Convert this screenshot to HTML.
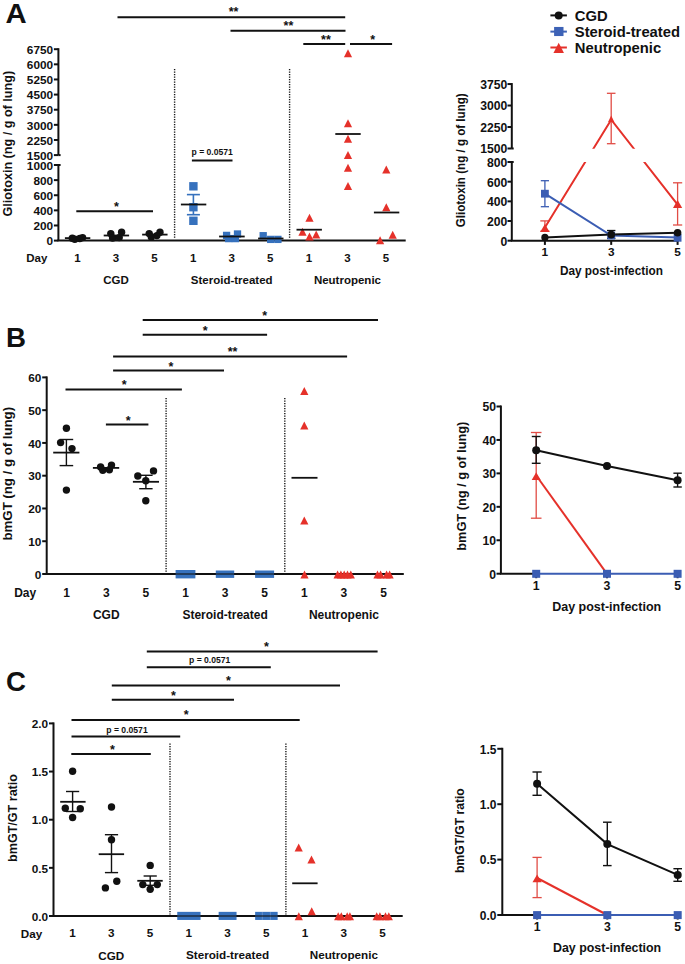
<!DOCTYPE html>
<html><head><meta charset="utf-8"><style>
html,body{margin:0;padding:0;background:#fff;overflow:hidden;}
svg{display:block;font-family:"Liberation Sans", sans-serif;}
</style></head><body>
<svg width="685" height="964" viewBox="0 0 685 964">
<rect width="685" height="964" fill="#fff"/>
<text x="5.40" y="22.50" font-size="27.5" text-anchor="start" fill="#111" font-weight="bold" textLength="21.2" lengthAdjust="spacingAndGlyphs">A</text>
<line x1="58.40" y1="48.20" x2="58.40" y2="155.10" stroke="#111" stroke-width="2" />
<line x1="53.90" y1="49.20" x2="58.40" y2="49.20" stroke="#111" stroke-width="2" />
<text x="53.10" y="53.95" font-size="11.8" text-anchor="end" fill="#111" font-weight="bold">6750</text>
<line x1="53.90" y1="64.33" x2="58.40" y2="64.33" stroke="#111" stroke-width="2" />
<text x="53.10" y="69.08" font-size="11.8" text-anchor="end" fill="#111" font-weight="bold">6000</text>
<line x1="53.90" y1="79.46" x2="58.40" y2="79.46" stroke="#111" stroke-width="2" />
<text x="53.10" y="84.21" font-size="11.8" text-anchor="end" fill="#111" font-weight="bold">5250</text>
<line x1="53.90" y1="94.59" x2="58.40" y2="94.59" stroke="#111" stroke-width="2" />
<text x="53.10" y="99.33" font-size="11.8" text-anchor="end" fill="#111" font-weight="bold">4500</text>
<line x1="53.90" y1="109.71" x2="58.40" y2="109.71" stroke="#111" stroke-width="2" />
<text x="53.10" y="114.46" font-size="11.8" text-anchor="end" fill="#111" font-weight="bold">3750</text>
<line x1="53.90" y1="124.84" x2="58.40" y2="124.84" stroke="#111" stroke-width="2" />
<text x="53.10" y="129.59" font-size="11.8" text-anchor="end" fill="#111" font-weight="bold">3000</text>
<line x1="53.90" y1="139.97" x2="58.40" y2="139.97" stroke="#111" stroke-width="2" />
<text x="53.10" y="144.72" font-size="11.8" text-anchor="end" fill="#111" font-weight="bold">2250</text>
<line x1="53.90" y1="155.10" x2="58.40" y2="155.10" stroke="#111" stroke-width="2" />
<text x="53.10" y="159.85" font-size="11.8" text-anchor="end" fill="#111" font-weight="bold">1500</text>
<line x1="58.40" y1="155.10" x2="60.60" y2="155.10" stroke="#111" stroke-width="2" />
<line x1="58.40" y1="164.00" x2="58.40" y2="240.60" stroke="#111" stroke-width="2" />
<line x1="53.90" y1="165.00" x2="58.40" y2="165.00" stroke="#111" stroke-width="2" />
<text x="53.10" y="169.75" font-size="11.8" text-anchor="end" fill="#111" font-weight="bold">1000</text>
<line x1="53.90" y1="180.12" x2="58.40" y2="180.12" stroke="#111" stroke-width="2" />
<text x="53.10" y="184.87" font-size="11.8" text-anchor="end" fill="#111" font-weight="bold">800</text>
<line x1="53.90" y1="195.24" x2="58.40" y2="195.24" stroke="#111" stroke-width="2" />
<text x="53.10" y="199.99" font-size="11.8" text-anchor="end" fill="#111" font-weight="bold">600</text>
<line x1="53.90" y1="210.36" x2="58.40" y2="210.36" stroke="#111" stroke-width="2" />
<text x="53.10" y="215.11" font-size="11.8" text-anchor="end" fill="#111" font-weight="bold">400</text>
<line x1="53.90" y1="225.48" x2="58.40" y2="225.48" stroke="#111" stroke-width="2" />
<text x="53.10" y="230.23" font-size="11.8" text-anchor="end" fill="#111" font-weight="bold">200</text>
<line x1="53.90" y1="240.60" x2="58.40" y2="240.60" stroke="#111" stroke-width="2" />
<text x="53.10" y="245.35" font-size="11.8" text-anchor="end" fill="#111" font-weight="bold">0</text>
<line x1="58.40" y1="165.00" x2="60.60" y2="165.00" stroke="#111" stroke-width="2" />
<line x1="57.40" y1="240.60" x2="405.70" y2="240.60" stroke="#111" stroke-width="2" />
<text transform="translate(12.00,143.70) rotate(-90)" x="0" y="0" font-size="12.5" text-anchor="middle" font-weight="bold" fill="#111" textLength="145.6" lengthAdjust="spacingAndGlyphs">Gliotoxin (ng / g of lung)</text>
<text x="47.40" y="261.84" font-size="11.5" text-anchor="end" fill="#111" font-weight="bold">Day</text>
<text x="77.40" y="261.84" font-size="11.5" text-anchor="middle" fill="#111" font-weight="bold">1</text>
<text x="115.98" y="261.84" font-size="11.5" text-anchor="middle" fill="#111" font-weight="bold">3</text>
<text x="154.55" y="261.84" font-size="11.5" text-anchor="middle" fill="#111" font-weight="bold">5</text>
<text x="193.12" y="261.84" font-size="11.5" text-anchor="middle" fill="#111" font-weight="bold">1</text>
<text x="231.70" y="261.84" font-size="11.5" text-anchor="middle" fill="#111" font-weight="bold">3</text>
<text x="270.27" y="261.84" font-size="11.5" text-anchor="middle" fill="#111" font-weight="bold">5</text>
<text x="308.85" y="261.84" font-size="11.5" text-anchor="middle" fill="#111" font-weight="bold">1</text>
<text x="347.43" y="261.84" font-size="11.5" text-anchor="middle" fill="#111" font-weight="bold">3</text>
<text x="386.00" y="261.84" font-size="11.5" text-anchor="middle" fill="#111" font-weight="bold">5</text>
<text x="115.98" y="283.94" font-size="11.5" text-anchor="middle" fill="#111" font-weight="bold">CGD</text>
<text x="231.70" y="283.94" font-size="11.5" text-anchor="middle" fill="#111" font-weight="bold">Steroid-treated</text>
<text x="347.43" y="283.94" font-size="11.5" text-anchor="middle" fill="#111" font-weight="bold">Neutropenic</text>
<line x1="174.6" y1="69" x2="174.6" y2="238.5" stroke="#151515" stroke-width="1.4" stroke-dasharray="1.3 1.2"/>
<line x1="289.6" y1="69" x2="289.6" y2="238.5" stroke="#151515" stroke-width="1.4" stroke-dasharray="1.3 1.2"/>
<line x1="117.50" y1="17.30" x2="345.20" y2="17.30" stroke="#111" stroke-width="2" />
<text x="233.50" y="15.80" font-size="12.5" text-anchor="middle" fill="#111" font-weight="bold">**</text>
<line x1="230.50" y1="30.80" x2="345.50" y2="30.80" stroke="#111" stroke-width="2" />
<text x="288.40" y="30.30" font-size="12.5" text-anchor="middle" fill="#111" font-weight="bold">**</text>
<line x1="303.30" y1="44.10" x2="345.20" y2="44.10" stroke="#111" stroke-width="2" />
<text x="325.90" y="43.50" font-size="12.5" text-anchor="middle" fill="#111" font-weight="bold">**</text>
<line x1="350.00" y1="44.10" x2="392.10" y2="44.10" stroke="#111" stroke-width="2" />
<text x="372.70" y="43.50" font-size="12.5" text-anchor="middle" fill="#111" font-weight="bold">*</text>
<line x1="76.30" y1="211.20" x2="153.00" y2="211.20" stroke="#111" stroke-width="2" />
<text x="116.40" y="210.50" font-size="12.5" text-anchor="middle" fill="#111" font-weight="bold">*</text>
<line x1="191.90" y1="160.50" x2="232.50" y2="160.50" stroke="#111" stroke-width="2" />
<text x="212.20" y="155.40" font-size="8.6" text-anchor="middle" fill="#111" font-weight="bold">p = 0.0571</text>
<circle cx="72.30" cy="238.20" r="3.7" fill="#111"/>
<circle cx="74.80" cy="239.30" r="3.7" fill="#111"/>
<circle cx="79.80" cy="238.50" r="3.7" fill="#111"/>
<circle cx="82.60" cy="237.60" r="3.7" fill="#111"/>
<line x1="64.90" y1="238.10" x2="90.30" y2="238.10" stroke="#111" stroke-width="1.8" />
<circle cx="110.80" cy="233.60" r="3.7" fill="#111"/>
<circle cx="112.60" cy="238.00" r="3.7" fill="#111"/>
<circle cx="119.20" cy="237.60" r="3.7" fill="#111"/>
<circle cx="121.60" cy="232.20" r="3.7" fill="#111"/>
<line x1="103.70" y1="235.50" x2="129.10" y2="235.50" stroke="#111" stroke-width="1.8" />
<circle cx="149.20" cy="233.60" r="3.7" fill="#111"/>
<circle cx="151.30" cy="236.90" r="3.7" fill="#111"/>
<circle cx="156.90" cy="235.60" r="3.7" fill="#111"/>
<circle cx="160.00" cy="232.20" r="3.7" fill="#111"/>
<line x1="142.15" y1="234.60" x2="167.55" y2="234.60" stroke="#111" stroke-width="1.8" />
<rect x="189.20" y="182.10" width="8.4" height="8.4" fill="#3671bd"/>
<rect x="189.20" y="203.00" width="8.4" height="8.4" fill="#3671bd"/>
<rect x="189.20" y="216.60" width="8.4" height="8.4" fill="#3671bd"/>
<line x1="193.40" y1="194.60" x2="193.40" y2="214.70" stroke="#3671bd" stroke-width="1.6" />
<line x1="186.90" y1="194.60" x2="199.90" y2="194.60" stroke="#3671bd" stroke-width="1.6" />
<line x1="186.90" y1="214.70" x2="199.90" y2="214.70" stroke="#3671bd" stroke-width="1.6" />
<line x1="180.90" y1="204.50" x2="206.30" y2="204.50" stroke="#111" stroke-width="1.8" />
<rect x="222.95" y="231.75" width="7.3" height="7.3" fill="#3671bd"/>
<rect x="233.85" y="230.35" width="7.3" height="7.3" fill="#3671bd"/>
<rect x="224.95" y="234.95" width="7.3" height="7.3" fill="#3671bd"/>
<rect x="231.75" y="234.95" width="7.3" height="7.3" fill="#3671bd"/>
<line x1="219.10" y1="236.50" x2="244.70" y2="236.50" stroke="#111" stroke-width="1.8" />
<rect x="259.55" y="232.05" width="7.3" height="7.3" fill="#3671bd"/>
<rect x="267.05" y="235.75" width="7.3" height="7.3" fill="#3671bd"/>
<rect x="274.25" y="235.75" width="7.3" height="7.3" fill="#3671bd"/>
<line x1="258.10" y1="238.50" x2="283.50" y2="238.50" stroke="#111" stroke-width="1.8" />
<polygon points="309.50,213.70 313.60,221.70 305.40,221.70" fill="#e5312a"/>
<polygon points="302.50,227.80 306.60,235.80 298.40,235.80" fill="#e5312a"/>
<polygon points="309.50,232.50 313.60,240.50 305.40,240.50" fill="#e5312a"/>
<polygon points="316.20,230.40 320.30,238.40 312.10,238.40" fill="#e5312a"/>
<line x1="296.50" y1="229.70" x2="321.90" y2="229.70" stroke="#111" stroke-width="1.8" />
<polygon points="348.00,49.20 352.10,57.20 343.90,57.20" fill="#e5312a"/>
<polygon points="348.00,119.20 352.10,127.20 343.90,127.20" fill="#e5312a"/>
<polygon points="348.00,134.70 352.10,142.70 343.90,142.70" fill="#e5312a"/>
<polygon points="348.00,151.00 352.10,159.00 343.90,159.00" fill="#e5312a"/>
<polygon points="348.00,163.80 352.10,171.80 343.90,171.80" fill="#e5312a"/>
<polygon points="348.00,181.90 352.10,189.90 343.90,189.90" fill="#e5312a"/>
<line x1="335.30" y1="134.00" x2="360.70" y2="134.00" stroke="#111" stroke-width="1.8" />
<polygon points="386.30,165.60 390.40,173.60 382.20,173.60" fill="#e5312a"/>
<polygon points="386.30,203.20 390.40,211.20 382.20,211.20" fill="#e5312a"/>
<polygon points="392.70,230.70 396.80,238.70 388.60,238.70" fill="#e5312a"/>
<polygon points="380.10,236.30 384.20,244.30 376.00,244.30" fill="#e5312a"/>
<line x1="373.90" y1="212.50" x2="399.30" y2="212.50" stroke="#111" stroke-width="1.8" />
<line x1="550.40" y1="15.40" x2="566.90" y2="15.40" stroke="#111" stroke-width="2" />
<circle cx="558.70" cy="15.40" r="4.0" fill="#111"/>
<line x1="550.40" y1="31.60" x2="566.90" y2="31.60" stroke="#3d62b6" stroke-width="2" />
<rect x="554.10" y="26.95" width="9.4" height="9.1" fill="#3d62b6"/>
<line x1="550.40" y1="47.50" x2="566.90" y2="47.50" stroke="#e5312a" stroke-width="2" />
<polygon points="558.70,42.70 563.95,52.90 553.45,52.90" fill="#e5312a"/>
<text x="574.80" y="20.83" font-size="14.8" text-anchor="start" fill="#111" font-weight="bold">CGD</text>
<text x="574.80" y="36.93" font-size="14.8" text-anchor="start" fill="#111" font-weight="bold">Steroid-treated</text>
<text x="574.80" y="53.33" font-size="14.8" text-anchor="start" fill="#111" font-weight="bold">Neutropenic</text>
<line x1="511.80" y1="83.05" x2="511.80" y2="148.50" stroke="#111" stroke-width="2" />
<line x1="507.50" y1="84.05" x2="511.80" y2="84.05" stroke="#111" stroke-width="2" />
<text x="507.30" y="88.94" font-size="12.2" text-anchor="end" fill="#111" font-weight="bold">3750</text>
<line x1="507.50" y1="105.53" x2="511.80" y2="105.53" stroke="#111" stroke-width="2" />
<text x="507.30" y="110.43" font-size="12.2" text-anchor="end" fill="#111" font-weight="bold">3000</text>
<line x1="507.50" y1="127.02" x2="511.80" y2="127.02" stroke="#111" stroke-width="2" />
<text x="507.30" y="131.91" font-size="12.2" text-anchor="end" fill="#111" font-weight="bold">2250</text>
<line x1="507.50" y1="148.50" x2="511.80" y2="148.50" stroke="#111" stroke-width="2" />
<text x="507.30" y="153.39" font-size="12.2" text-anchor="end" fill="#111" font-weight="bold">1500</text>
<line x1="511.80" y1="148.50" x2="513.70" y2="148.50" stroke="#111" stroke-width="2" />
<line x1="511.80" y1="161.00" x2="511.80" y2="240.70" stroke="#111" stroke-width="2" />
<line x1="507.50" y1="162.00" x2="511.80" y2="162.00" stroke="#111" stroke-width="2" />
<text x="507.30" y="166.89" font-size="12.2" text-anchor="end" fill="#111" font-weight="bold">800</text>
<line x1="507.50" y1="181.68" x2="511.80" y2="181.68" stroke="#111" stroke-width="2" />
<text x="507.30" y="186.57" font-size="12.2" text-anchor="end" fill="#111" font-weight="bold">600</text>
<line x1="507.50" y1="201.35" x2="511.80" y2="201.35" stroke="#111" stroke-width="2" />
<text x="507.30" y="206.24" font-size="12.2" text-anchor="end" fill="#111" font-weight="bold">400</text>
<line x1="507.50" y1="221.02" x2="511.80" y2="221.02" stroke="#111" stroke-width="2" />
<text x="507.30" y="225.92" font-size="12.2" text-anchor="end" fill="#111" font-weight="bold">200</text>
<line x1="507.50" y1="240.70" x2="511.80" y2="240.70" stroke="#111" stroke-width="2" />
<text x="507.30" y="245.59" font-size="12.2" text-anchor="end" fill="#111" font-weight="bold">0</text>
<line x1="511.80" y1="162.00" x2="513.70" y2="162.00" stroke="#111" stroke-width="2" />
<line x1="510.80" y1="240.70" x2="678.60" y2="240.70" stroke="#111" stroke-width="2" />
<line x1="544.90" y1="240.70" x2="544.90" y2="244.90" stroke="#111" stroke-width="2" />
<text x="544.90" y="256.05" font-size="11.8" text-anchor="middle" fill="#111" font-weight="bold">1</text>
<line x1="611.20" y1="240.70" x2="611.20" y2="244.90" stroke="#111" stroke-width="2" />
<text x="611.20" y="256.05" font-size="11.8" text-anchor="middle" fill="#111" font-weight="bold">3</text>
<line x1="677.60" y1="240.70" x2="677.60" y2="244.90" stroke="#111" stroke-width="2" />
<text x="677.60" y="256.05" font-size="11.8" text-anchor="middle" fill="#111" font-weight="bold">5</text>
<text x="611.40" y="274.99" font-size="12.2" text-anchor="middle" fill="#111" font-weight="bold" textLength="103" lengthAdjust="spacingAndGlyphs">Day post-infection</text>
<text transform="translate(464.80,160.30) rotate(-90)" x="0" y="0" font-size="12" text-anchor="middle" font-weight="bold" fill="#111" textLength="134" lengthAdjust="spacingAndGlyphs">Gliotoxin (ng / g of lung)</text>
<defs><clipPath id="cA"><rect x="500" y="60" width="190" height="88.8"/><rect x="500" y="162.1" width="190" height="100"/></clipPath></defs>
<line x1="544.90" y1="180.70" x2="544.90" y2="206.70" stroke="#3b5db3" stroke-width="1.3" />
<line x1="540.80" y1="180.70" x2="549.00" y2="180.70" stroke="#3b5db3" stroke-width="1.3" />
<line x1="540.80" y1="206.70" x2="549.00" y2="206.70" stroke="#3b5db3" stroke-width="1.3" />
<line x1="544.90" y1="220.90" x2="544.90" y2="231.20" stroke="#e14c45" stroke-width="1.3" />
<line x1="540.30" y1="220.90" x2="549.50" y2="220.90" stroke="#e14c45" stroke-width="1.3" />
<line x1="540.30" y1="231.20" x2="549.50" y2="231.20" stroke="#e14c45" stroke-width="1.3" />
<line x1="611.20" y1="93.30" x2="611.20" y2="143.70" stroke="#e14c45" stroke-width="1.3" />
<line x1="606.90" y1="93.30" x2="615.50" y2="93.30" stroke="#e14c45" stroke-width="1.3" />
<line x1="606.90" y1="143.70" x2="615.50" y2="143.70" stroke="#e14c45" stroke-width="1.3" />
<line x1="677.60" y1="182.80" x2="677.60" y2="225.00" stroke="#e14c45" stroke-width="1.3" />
<line x1="673.00" y1="182.80" x2="682.20" y2="182.80" stroke="#e14c45" stroke-width="1.3" />
<line x1="673.00" y1="225.00" x2="682.20" y2="225.00" stroke="#e14c45" stroke-width="1.3" />
<line x1="611.20" y1="230.50" x2="611.20" y2="238.30" stroke="#111" stroke-width="1.3" />
<line x1="607.00" y1="230.50" x2="615.40" y2="230.50" stroke="#111" stroke-width="1.3" />
<line x1="607.00" y1="238.30" x2="615.40" y2="238.30" stroke="#111" stroke-width="1.3" />
<polyline points="544.90,227.50 611.20,119.70 677.60,204.70" fill="none" stroke="#e5312a" stroke-width="2" clip-path="url(#cA)"/>
<polyline points="544.90,193.70 611.20,235.60 677.60,237.40" fill="none" stroke="#3b5db3" stroke-width="2"/>
<polyline points="544.90,237.40 611.20,234.60 677.60,232.80" fill="none" stroke="#111" stroke-width="2"/>
<rect x="541.00" y="189.80" width="7.8" height="7.8" fill="#3b5db3"/>
<rect x="607.30" y="231.70" width="7.8" height="7.8" fill="#3b5db3"/>
<rect x="673.70" y="233.90" width="7.8" height="7.8" fill="#3b5db3"/>
<polygon points="544.90,224.00 549.60,232.00 540.20,232.00" fill="#e5312a"/>
<polygon points="611.20,115.60 614.30,122.00 608.10,122.00" fill="#e5312a"/>
<polygon points="677.60,199.90 682.20,208.10 673.00,208.10" fill="#e5312a"/>
<circle cx="544.90" cy="237.40" r="3.6" fill="#111"/>
<circle cx="611.20" cy="234.60" r="3.9" fill="#111"/>
<circle cx="677.60" cy="232.80" r="3.8" fill="#111"/>
<text x="6.00" y="347.00" font-size="27.5" text-anchor="start" fill="#111" font-weight="bold" textLength="20.0" lengthAdjust="spacingAndGlyphs">B</text>
<line x1="46.70" y1="376.40" x2="46.70" y2="574.00" stroke="#111" stroke-width="2" />
<line x1="42.20" y1="377.40" x2="46.70" y2="377.40" stroke="#111" stroke-width="2" />
<text x="41.40" y="382.15" font-size="11.8" text-anchor="end" fill="#111" font-weight="bold">60</text>
<line x1="42.20" y1="410.17" x2="46.70" y2="410.17" stroke="#111" stroke-width="2" />
<text x="41.40" y="414.91" font-size="11.8" text-anchor="end" fill="#111" font-weight="bold">50</text>
<line x1="42.20" y1="442.93" x2="46.70" y2="442.93" stroke="#111" stroke-width="2" />
<text x="41.40" y="447.68" font-size="11.8" text-anchor="end" fill="#111" font-weight="bold">40</text>
<line x1="42.20" y1="475.70" x2="46.70" y2="475.70" stroke="#111" stroke-width="2" />
<text x="41.40" y="480.45" font-size="11.8" text-anchor="end" fill="#111" font-weight="bold">30</text>
<line x1="42.20" y1="508.47" x2="46.70" y2="508.47" stroke="#111" stroke-width="2" />
<text x="41.40" y="513.21" font-size="11.8" text-anchor="end" fill="#111" font-weight="bold">20</text>
<line x1="42.20" y1="541.23" x2="46.70" y2="541.23" stroke="#111" stroke-width="2" />
<text x="41.40" y="545.98" font-size="11.8" text-anchor="end" fill="#111" font-weight="bold">10</text>
<line x1="42.20" y1="574.00" x2="46.70" y2="574.00" stroke="#111" stroke-width="2" />
<text x="41.40" y="578.75" font-size="11.8" text-anchor="end" fill="#111" font-weight="bold">0</text>
<text transform="translate(12.40,473.70) rotate(-90)" x="0" y="0" font-size="12.5" text-anchor="middle" font-weight="bold" fill="#111" textLength="133.5" lengthAdjust="spacingAndGlyphs">bmGT (ng / g of lung)</text>
<text x="36.20" y="596.92" font-size="12.0" text-anchor="end" fill="#111" font-weight="bold">Day</text>
<text x="66.70" y="596.92" font-size="12.0" text-anchor="middle" fill="#111" font-weight="bold">1</text>
<text x="106.30" y="596.92" font-size="12.0" text-anchor="middle" fill="#111" font-weight="bold">3</text>
<text x="145.90" y="596.92" font-size="12.0" text-anchor="middle" fill="#111" font-weight="bold">5</text>
<text x="185.50" y="596.92" font-size="12.0" text-anchor="middle" fill="#111" font-weight="bold">1</text>
<text x="225.10" y="596.92" font-size="12.0" text-anchor="middle" fill="#111" font-weight="bold">3</text>
<text x="264.70" y="596.92" font-size="12.0" text-anchor="middle" fill="#111" font-weight="bold">5</text>
<text x="304.30" y="596.92" font-size="12.0" text-anchor="middle" fill="#111" font-weight="bold">1</text>
<text x="343.90" y="596.92" font-size="12.0" text-anchor="middle" fill="#111" font-weight="bold">3</text>
<text x="383.50" y="596.92" font-size="12.0" text-anchor="middle" fill="#111" font-weight="bold">5</text>
<text x="106.30" y="618.92" font-size="12.0" text-anchor="middle" fill="#111" font-weight="bold">CGD</text>
<text x="225.10" y="618.92" font-size="12.0" text-anchor="middle" fill="#111" font-weight="bold">Steroid-treated</text>
<text x="343.90" y="618.92" font-size="12.0" text-anchor="middle" fill="#111" font-weight="bold">Neutropenic</text>
<line x1="166.1" y1="398" x2="166.1" y2="572.5" stroke="#151515" stroke-width="1.4" stroke-dasharray="1.3 1.2"/>
<line x1="284.8" y1="398" x2="284.8" y2="572.5" stroke="#151515" stroke-width="1.4" stroke-dasharray="1.3 1.2"/>
<line x1="142.70" y1="320.10" x2="378.00" y2="320.10" stroke="#111" stroke-width="2" />
<text x="264.80" y="319.90" font-size="12.5" text-anchor="middle" fill="#111" font-weight="bold">*</text>
<line x1="142.70" y1="334.80" x2="267.10" y2="334.80" stroke="#111" stroke-width="2" />
<text x="205.20" y="335.10" font-size="12.5" text-anchor="middle" fill="#111" font-weight="bold">*</text>
<line x1="113.10" y1="356.60" x2="347.10" y2="356.60" stroke="#111" stroke-width="2" />
<text x="232.50" y="355.50" font-size="12.5" text-anchor="middle" fill="#111" font-weight="bold">**</text>
<line x1="113.10" y1="370.60" x2="224.00" y2="370.60" stroke="#111" stroke-width="2" />
<text x="170.90" y="370.60" font-size="12.5" text-anchor="middle" fill="#111" font-weight="bold">*</text>
<line x1="65.50" y1="389.50" x2="181.90" y2="389.50" stroke="#111" stroke-width="2" />
<text x="124.10" y="389.30" font-size="12.5" text-anchor="middle" fill="#111" font-weight="bold">*</text>
<line x1="105.90" y1="424.40" x2="148.40" y2="424.40" stroke="#111" stroke-width="2" />
<text x="128.10" y="424.80" font-size="12.5" text-anchor="middle" fill="#111" font-weight="bold">*</text>
<circle cx="66.40" cy="428.30" r="3.7" fill="#111"/>
<circle cx="60.60" cy="442.60" r="3.7" fill="#111"/>
<circle cx="72.00" cy="448.60" r="3.7" fill="#111"/>
<circle cx="66.40" cy="490.10" r="3.7" fill="#111"/>
<line x1="66.40" y1="439.50" x2="66.40" y2="465.60" stroke="#111" stroke-width="1.4" />
<line x1="59.60" y1="439.50" x2="73.20" y2="439.50" stroke="#111" stroke-width="1.4" />
<line x1="59.60" y1="465.60" x2="73.20" y2="465.60" stroke="#111" stroke-width="1.4" />
<line x1="53.20" y1="452.60" x2="79.40" y2="452.60" stroke="#111" stroke-width="1.8" />
<circle cx="100.60" cy="467.00" r="3.7" fill="#111"/>
<circle cx="102.80" cy="470.30" r="3.7" fill="#111"/>
<circle cx="109.40" cy="469.80" r="3.7" fill="#111"/>
<circle cx="111.50" cy="465.10" r="3.7" fill="#111"/>
<line x1="92.90" y1="467.90" x2="119.20" y2="467.90" stroke="#111" stroke-width="1.8" />
<circle cx="137.80" cy="476.00" r="3.7" fill="#111"/>
<circle cx="145.80" cy="480.70" r="3.7" fill="#111"/>
<circle cx="153.50" cy="470.90" r="3.7" fill="#111"/>
<circle cx="145.80" cy="500.80" r="3.7" fill="#111"/>
<line x1="145.90" y1="475.30" x2="145.90" y2="488.70" stroke="#111" stroke-width="1.4" />
<line x1="139.20" y1="475.30" x2="152.60" y2="475.30" stroke="#111" stroke-width="1.4" />
<line x1="139.20" y1="488.70" x2="152.60" y2="488.70" stroke="#111" stroke-width="1.4" />
<line x1="132.90" y1="481.80" x2="159.00" y2="481.80" stroke="#111" stroke-width="1.8" />
<line x1="45.70" y1="574.00" x2="403.80" y2="574.00" stroke="#111" stroke-width="2" />
<rect x="175.60" y="570.00" width="19.8" height="8.4" fill="#3671bd"/>
<rect x="215.80" y="570.50" width="18.4" height="7.4" fill="#3671bd"/>
<rect x="255.10" y="570.50" width="19.0" height="7.4" fill="#3671bd"/>
<line x1="160.00" y1="574.00" x2="290.00" y2="574.00" stroke="#111" stroke-width="2" stroke-opacity="0.55"/>
<polygon points="304.30,387.00 308.40,395.00 300.20,395.00" fill="#e5312a"/>
<polygon points="304.30,421.60 308.40,429.60 300.20,429.60" fill="#e5312a"/>
<polygon points="304.30,516.50 308.40,524.50 300.20,524.50" fill="#e5312a"/>
<polygon points="304.50,570.40 308.60,578.40 300.40,578.40" fill="#e5312a"/>
<line x1="291.50" y1="477.80" x2="317.50" y2="477.80" stroke="#111" stroke-width="1.8" />
<polygon points="337.60,570.40 341.70,578.40 333.50,578.40" fill="#e5312a"/>
<polygon points="340.90,570.40 345.00,578.40 336.80,578.40" fill="#e5312a"/>
<polygon points="344.20,570.40 348.30,578.40 340.10,578.40" fill="#e5312a"/>
<polygon points="347.50,570.40 351.60,578.40 343.40,578.40" fill="#e5312a"/>
<polygon points="350.80,570.40 354.90,578.40 346.70,578.40" fill="#e5312a"/>
<polygon points="377.50,570.40 381.60,578.40 373.40,578.40" fill="#e5312a"/>
<polygon points="380.60,570.40 384.70,578.40 376.50,578.40" fill="#e5312a"/>
<polygon points="386.60,570.40 390.70,578.40 382.50,578.40" fill="#e5312a"/>
<polygon points="389.60,570.40 393.70,578.40 385.50,578.40" fill="#e5312a"/>
<line x1="500.90" y1="405.50" x2="500.90" y2="573.70" stroke="#111" stroke-width="2" />
<line x1="496.50" y1="406.50" x2="500.90" y2="406.50" stroke="#111" stroke-width="2" />
<text x="496.00" y="411.39" font-size="12.2" text-anchor="end" fill="#111" font-weight="bold">50</text>
<line x1="496.50" y1="439.94" x2="500.90" y2="439.94" stroke="#111" stroke-width="2" />
<text x="496.00" y="444.83" font-size="12.2" text-anchor="end" fill="#111" font-weight="bold">40</text>
<line x1="496.50" y1="473.38" x2="500.90" y2="473.38" stroke="#111" stroke-width="2" />
<text x="496.00" y="478.27" font-size="12.2" text-anchor="end" fill="#111" font-weight="bold">30</text>
<line x1="496.50" y1="506.82" x2="500.90" y2="506.82" stroke="#111" stroke-width="2" />
<text x="496.00" y="511.71" font-size="12.2" text-anchor="end" fill="#111" font-weight="bold">20</text>
<line x1="496.50" y1="540.26" x2="500.90" y2="540.26" stroke="#111" stroke-width="2" />
<text x="496.00" y="545.15" font-size="12.2" text-anchor="end" fill="#111" font-weight="bold">10</text>
<line x1="496.50" y1="573.70" x2="500.90" y2="573.70" stroke="#111" stroke-width="2" />
<text x="496.00" y="578.59" font-size="12.2" text-anchor="end" fill="#111" font-weight="bold">0</text>
<line x1="499.90" y1="573.70" x2="536.00" y2="573.70" stroke="#111" stroke-width="2" />
<line x1="536.20" y1="573.70" x2="536.20" y2="578.20" stroke="#111" stroke-width="2" />
<text x="536.20" y="590.03" font-size="12.3" text-anchor="middle" fill="#111" font-weight="bold">1</text>
<line x1="607.00" y1="573.70" x2="607.00" y2="578.20" stroke="#111" stroke-width="2" />
<text x="607.00" y="590.03" font-size="12.3" text-anchor="middle" fill="#111" font-weight="bold">3</text>
<line x1="677.60" y1="573.70" x2="677.60" y2="578.20" stroke="#111" stroke-width="2" />
<text x="677.60" y="590.03" font-size="12.3" text-anchor="middle" fill="#111" font-weight="bold">5</text>
<text x="606.70" y="610.70" font-size="12.5" text-anchor="middle" fill="#111" font-weight="bold" textLength="109" lengthAdjust="spacingAndGlyphs">Day post-infection</text>
<text transform="translate(465.80,486.20) rotate(-90)" x="0" y="0" font-size="12" text-anchor="middle" font-weight="bold" fill="#111" textLength="129" lengthAdjust="spacingAndGlyphs">bmGT (ng / g of lung)</text>
<line x1="536.20" y1="432.50" x2="536.20" y2="518.20" stroke="#e14c45" stroke-width="1.3" />
<line x1="530.90" y1="432.50" x2="541.50" y2="432.50" stroke="#e14c45" stroke-width="1.3" />
<line x1="530.90" y1="518.20" x2="541.50" y2="518.20" stroke="#e14c45" stroke-width="1.3" />
<line x1="536.20" y1="436.50" x2="536.20" y2="463.30" stroke="#111" stroke-width="1.4" />
<line x1="531.80" y1="436.50" x2="540.60" y2="436.50" stroke="#111" stroke-width="1.4" />
<line x1="531.80" y1="463.30" x2="540.60" y2="463.30" stroke="#111" stroke-width="1.4" />
<line x1="677.60" y1="473.20" x2="677.60" y2="487.00" stroke="#111" stroke-width="1.4" />
<line x1="673.40" y1="473.20" x2="681.80" y2="473.20" stroke="#111" stroke-width="1.4" />
<line x1="673.40" y1="487.00" x2="681.80" y2="487.00" stroke="#111" stroke-width="1.4" />
<polyline points="536.20,475.50 607.00,573.80" fill="none" stroke="#e5312a" stroke-width="2"/>
<polyline points="536.20,450.20 607.00,466.00 677.60,480.20" fill="none" stroke="#111" stroke-width="2"/>
<polyline points="536.20,573.80 677.60,573.80" fill="none" stroke="#3b5db3" stroke-width="2"/>
<polygon points="536.20,472.30 540.70,480.10 531.70,480.10" fill="#e5312a"/>
<circle cx="536.20" cy="450.20" r="4.0" fill="#111"/>
<circle cx="607.00" cy="466.00" r="4.0" fill="#111"/>
<circle cx="677.60" cy="480.20" r="4.0" fill="#111"/>
<rect x="532.20" y="569.80" width="8.0" height="8.0" fill="#3b5db3"/>
<rect x="603.00" y="569.80" width="8.0" height="8.0" fill="#3b5db3"/>
<rect x="673.60" y="569.80" width="8.0" height="8.0" fill="#3b5db3"/>
<text x="6.00" y="690.90" font-size="27.5" text-anchor="start" fill="#111" font-weight="bold" textLength="20.0" lengthAdjust="spacingAndGlyphs">C</text>
<line x1="53.50" y1="722.40" x2="53.50" y2="916.00" stroke="#111" stroke-width="2" />
<line x1="49.00" y1="723.40" x2="53.50" y2="723.40" stroke="#111" stroke-width="2" />
<text x="48.20" y="728.15" font-size="11.8" text-anchor="end" fill="#111" font-weight="bold">2.0</text>
<line x1="49.00" y1="771.55" x2="53.50" y2="771.55" stroke="#111" stroke-width="2" />
<text x="48.20" y="776.30" font-size="11.8" text-anchor="end" fill="#111" font-weight="bold">1.5</text>
<line x1="49.00" y1="819.70" x2="53.50" y2="819.70" stroke="#111" stroke-width="2" />
<text x="48.20" y="824.45" font-size="11.8" text-anchor="end" fill="#111" font-weight="bold">1.0</text>
<line x1="49.00" y1="867.85" x2="53.50" y2="867.85" stroke="#111" stroke-width="2" />
<text x="48.20" y="872.60" font-size="11.8" text-anchor="end" fill="#111" font-weight="bold">0.5</text>
<line x1="49.00" y1="916.00" x2="53.50" y2="916.00" stroke="#111" stroke-width="2" />
<text x="48.20" y="920.75" font-size="11.8" text-anchor="end" fill="#111" font-weight="bold">0.0</text>
<text transform="translate(16.60,818.00) rotate(-90)" x="0" y="0" font-size="12.5" text-anchor="middle" font-weight="bold" fill="#111" textLength="87.9" lengthAdjust="spacingAndGlyphs">bmGT/GT ratio</text>
<text x="42.20" y="937.71" font-size="11.7" text-anchor="end" fill="#111" font-weight="bold">Day</text>
<text x="72.50" y="937.21" font-size="11.7" text-anchor="middle" fill="#111" font-weight="bold">1</text>
<text x="111.26" y="937.21" font-size="11.7" text-anchor="middle" fill="#111" font-weight="bold">3</text>
<text x="150.03" y="937.21" font-size="11.7" text-anchor="middle" fill="#111" font-weight="bold">5</text>
<text x="188.79" y="937.21" font-size="11.7" text-anchor="middle" fill="#111" font-weight="bold">1</text>
<text x="227.55" y="937.21" font-size="11.7" text-anchor="middle" fill="#111" font-weight="bold">3</text>
<text x="266.31" y="937.21" font-size="11.7" text-anchor="middle" fill="#111" font-weight="bold">5</text>
<text x="305.08" y="937.21" font-size="11.7" text-anchor="middle" fill="#111" font-weight="bold">1</text>
<text x="343.84" y="937.21" font-size="11.7" text-anchor="middle" fill="#111" font-weight="bold">3</text>
<text x="382.60" y="937.21" font-size="11.7" text-anchor="middle" fill="#111" font-weight="bold">5</text>
<text x="111.26" y="959.71" font-size="11.7" text-anchor="middle" fill="#111" font-weight="bold">CGD</text>
<text x="227.55" y="959.21" font-size="11.7" text-anchor="middle" fill="#111" font-weight="bold">Steroid-treated</text>
<text x="343.84" y="959.21" font-size="11.7" text-anchor="middle" fill="#111" font-weight="bold">Neutropenic</text>
<line x1="170.0" y1="743.5" x2="170.0" y2="914.5" stroke="#151515" stroke-width="1.4" stroke-dasharray="1.3 1.2"/>
<line x1="285.9" y1="743.5" x2="285.9" y2="914.5" stroke="#151515" stroke-width="1.4" stroke-dasharray="1.3 1.2"/>
<line x1="146.80" y1="651.40" x2="377.60" y2="651.40" stroke="#111" stroke-width="2" />
<text x="266.50" y="650.70" font-size="12.5" text-anchor="middle" fill="#111" font-weight="bold">*</text>
<line x1="146.80" y1="667.20" x2="270.80" y2="667.20" stroke="#111" stroke-width="2" />
<text x="209.70" y="663.20" font-size="8.6" text-anchor="middle" fill="#111" font-weight="bold">p = 0.0571</text>
<line x1="111.80" y1="685.50" x2="340.00" y2="685.50" stroke="#111" stroke-width="2" />
<text x="228.40" y="684.60" font-size="12.5" text-anchor="middle" fill="#111" font-weight="bold">*</text>
<line x1="111.80" y1="699.80" x2="234.00" y2="699.80" stroke="#111" stroke-width="2" />
<text x="173.50" y="699.80" font-size="12.5" text-anchor="middle" fill="#111" font-weight="bold">*</text>
<line x1="71.50" y1="720.10" x2="299.70" y2="720.10" stroke="#111" stroke-width="2" />
<text x="186.10" y="718.90" font-size="12.5" text-anchor="middle" fill="#111" font-weight="bold">*</text>
<line x1="71.50" y1="736.50" x2="180.20" y2="736.50" stroke="#111" stroke-width="2" />
<text x="127.00" y="733.00" font-size="8.6" text-anchor="middle" fill="#111" font-weight="bold">p = 0.0571</text>
<line x1="71.30" y1="754.00" x2="150.80" y2="754.00" stroke="#111" stroke-width="2" />
<text x="112.50" y="753.90" font-size="12.5" text-anchor="middle" fill="#111" font-weight="bold">*</text>
<circle cx="72.60" cy="771.30" r="3.7" fill="#111"/>
<circle cx="65.30" cy="808.30" r="3.7" fill="#111"/>
<circle cx="80.30" cy="808.80" r="3.7" fill="#111"/>
<circle cx="72.60" cy="817.50" r="3.7" fill="#111"/>
<line x1="72.60" y1="791.50" x2="72.60" y2="811.50" stroke="#111" stroke-width="1.4" />
<line x1="66.00" y1="791.50" x2="79.20" y2="791.50" stroke="#111" stroke-width="1.4" />
<line x1="66.00" y1="811.50" x2="79.20" y2="811.50" stroke="#111" stroke-width="1.4" />
<line x1="60.20" y1="801.80" x2="85.60" y2="801.80" stroke="#111" stroke-width="1.8" />
<circle cx="111.50" cy="807.00" r="3.7" fill="#111"/>
<circle cx="111.50" cy="839.70" r="3.7" fill="#111"/>
<circle cx="116.80" cy="881.30" r="3.7" fill="#111"/>
<circle cx="105.40" cy="887.90" r="3.7" fill="#111"/>
<line x1="111.50" y1="834.70" x2="111.50" y2="872.60" stroke="#111" stroke-width="1.4" />
<line x1="104.90" y1="834.70" x2="118.10" y2="834.70" stroke="#111" stroke-width="1.4" />
<line x1="104.90" y1="872.60" x2="118.10" y2="872.60" stroke="#111" stroke-width="1.4" />
<line x1="98.70" y1="854.20" x2="124.10" y2="854.20" stroke="#111" stroke-width="1.8" />
<circle cx="150.20" cy="865.40" r="3.7" fill="#111"/>
<circle cx="142.80" cy="884.60" r="3.7" fill="#111"/>
<circle cx="157.30" cy="884.60" r="3.7" fill="#111"/>
<circle cx="150.20" cy="889.20" r="3.7" fill="#111"/>
<line x1="150.20" y1="876.00" x2="150.20" y2="885.30" stroke="#111" stroke-width="1.4" />
<line x1="143.60" y1="876.00" x2="156.80" y2="876.00" stroke="#111" stroke-width="1.4" />
<line x1="143.60" y1="885.30" x2="156.80" y2="885.30" stroke="#111" stroke-width="1.4" />
<line x1="137.30" y1="880.80" x2="162.70" y2="880.80" stroke="#111" stroke-width="1.8" />
<line x1="52.50" y1="916.00" x2="402.70" y2="916.00" stroke="#111" stroke-width="2" />
<rect x="177.25" y="911.85" width="23.3" height="8.1" fill="#3671bd"/>
<rect x="218.65" y="911.85" width="17.9" height="8.1" fill="#3671bd"/>
<rect x="255.15" y="911.85" width="22.5" height="8.1" fill="#3671bd"/>
<line x1="262.30" y1="912.00" x2="262.30" y2="920.00" stroke="#6f95d0" stroke-width="0.8" />
<line x1="270.40" y1="912.00" x2="270.40" y2="920.00" stroke="#6f95d0" stroke-width="0.8" />
<line x1="165.00" y1="916.00" x2="290.00" y2="916.00" stroke="#111" stroke-width="2" stroke-opacity="0.55"/>
<polygon points="298.70,843.50 302.80,851.50 294.60,851.50" fill="#e5312a"/>
<polygon points="311.50,855.60 315.60,863.60 307.40,863.60" fill="#e5312a"/>
<polygon points="311.70,907.30 315.80,915.30 307.60,915.30" fill="#e5312a"/>
<polygon points="298.80,912.30 302.90,920.30 294.70,920.30" fill="#e5312a"/>
<line x1="292.20" y1="883.30" x2="317.60" y2="883.30" stroke="#111" stroke-width="1.8" />
<polygon points="338.20,912.20 342.30,920.20 334.10,920.20" fill="#e5312a"/>
<polygon points="341.30,912.20 345.40,920.20 337.20,920.20" fill="#e5312a"/>
<polygon points="347.20,912.20 351.30,920.20 343.10,920.20" fill="#e5312a"/>
<polygon points="349.90,912.20 354.00,920.20 345.80,920.20" fill="#e5312a"/>
<polygon points="376.70,912.20 380.80,920.20 372.60,920.20" fill="#e5312a"/>
<polygon points="379.90,912.20 384.00,920.20 375.80,920.20" fill="#e5312a"/>
<polygon points="385.50,912.20 389.60,920.20 381.40,920.20" fill="#e5312a"/>
<polygon points="388.80,912.20 392.90,920.20 384.70,920.20" fill="#e5312a"/>
<line x1="502.30" y1="747.80" x2="502.30" y2="915.00" stroke="#111" stroke-width="2" />
<line x1="497.30" y1="748.80" x2="502.30" y2="748.80" stroke="#111" stroke-width="2" />
<text x="496.50" y="753.62" font-size="12.0" text-anchor="end" fill="#111" font-weight="bold">1.5</text>
<line x1="497.30" y1="804.20" x2="502.30" y2="804.20" stroke="#111" stroke-width="2" />
<text x="496.50" y="809.02" font-size="12.0" text-anchor="end" fill="#111" font-weight="bold">1.0</text>
<line x1="497.30" y1="859.60" x2="502.30" y2="859.60" stroke="#111" stroke-width="2" />
<text x="496.50" y="864.42" font-size="12.0" text-anchor="end" fill="#111" font-weight="bold">0.5</text>
<line x1="497.30" y1="915.00" x2="502.30" y2="915.00" stroke="#111" stroke-width="2" />
<text x="496.50" y="919.82" font-size="12.0" text-anchor="end" fill="#111" font-weight="bold">0.0</text>
<line x1="501.30" y1="915.00" x2="537.00" y2="915.00" stroke="#111" stroke-width="2" />
<line x1="537.10" y1="915.00" x2="537.10" y2="919.50" stroke="#111" stroke-width="2" />
<text x="537.10" y="931.19" font-size="12.2" text-anchor="middle" fill="#111" font-weight="bold">1</text>
<line x1="607.30" y1="915.00" x2="607.30" y2="919.50" stroke="#111" stroke-width="2" />
<text x="607.30" y="931.19" font-size="12.2" text-anchor="middle" fill="#111" font-weight="bold">3</text>
<line x1="677.70" y1="915.00" x2="677.70" y2="919.50" stroke="#111" stroke-width="2" />
<text x="677.70" y="931.19" font-size="12.2" text-anchor="middle" fill="#111" font-weight="bold">5</text>
<text x="607.10" y="951.96" font-size="12.4" text-anchor="middle" fill="#111" font-weight="bold" textLength="108.2" lengthAdjust="spacingAndGlyphs">Day post-infection</text>
<text transform="translate(463.80,830.60) rotate(-90)" x="0" y="0" font-size="12" text-anchor="middle" font-weight="bold" fill="#111" textLength="84.6" lengthAdjust="spacingAndGlyphs">bmGT/GT ratio</text>
<line x1="537.10" y1="857.40" x2="537.10" y2="897.60" stroke="#e14c45" stroke-width="1.3" />
<line x1="532.50" y1="857.40" x2="541.70" y2="857.40" stroke="#e14c45" stroke-width="1.3" />
<line x1="532.50" y1="897.60" x2="541.70" y2="897.60" stroke="#e14c45" stroke-width="1.3" />
<line x1="537.10" y1="772.00" x2="537.10" y2="795.30" stroke="#111" stroke-width="1.4" />
<line x1="532.50" y1="772.00" x2="541.70" y2="772.00" stroke="#111" stroke-width="1.4" />
<line x1="532.50" y1="795.30" x2="541.70" y2="795.30" stroke="#111" stroke-width="1.4" />
<line x1="607.30" y1="822.20" x2="607.30" y2="865.60" stroke="#111" stroke-width="1.4" />
<line x1="603.00" y1="822.20" x2="611.60" y2="822.20" stroke="#111" stroke-width="1.4" />
<line x1="603.00" y1="865.60" x2="611.60" y2="865.60" stroke="#111" stroke-width="1.4" />
<line x1="677.70" y1="868.70" x2="677.70" y2="881.30" stroke="#111" stroke-width="1.4" />
<line x1="673.40" y1="868.70" x2="682.00" y2="868.70" stroke="#111" stroke-width="1.4" />
<line x1="673.40" y1="881.30" x2="682.00" y2="881.30" stroke="#111" stroke-width="1.4" />
<polyline points="537.10,878.00 607.30,915.00" fill="none" stroke="#e5312a" stroke-width="2"/>
<polyline points="537.10,783.80 607.30,844.10 677.70,874.90" fill="none" stroke="#111" stroke-width="2"/>
<polyline points="537.10,915.00 677.70,915.00" fill="none" stroke="#3b5db3" stroke-width="2"/>
<polygon points="537.10,874.60 541.70,882.20 532.50,882.20" fill="#e5312a"/>
<circle cx="537.10" cy="783.80" r="4.0" fill="#111"/>
<circle cx="607.30" cy="844.10" r="4.0" fill="#111"/>
<circle cx="677.70" cy="874.90" r="4.0" fill="#111"/>
<rect x="533.10" y="911.10" width="8.0" height="8.0" fill="#3b5db3"/>
<rect x="603.30" y="911.10" width="8.0" height="8.0" fill="#3b5db3"/>
<rect x="673.70" y="911.10" width="8.0" height="8.0" fill="#3b5db3"/>
</svg>
</body></html>
